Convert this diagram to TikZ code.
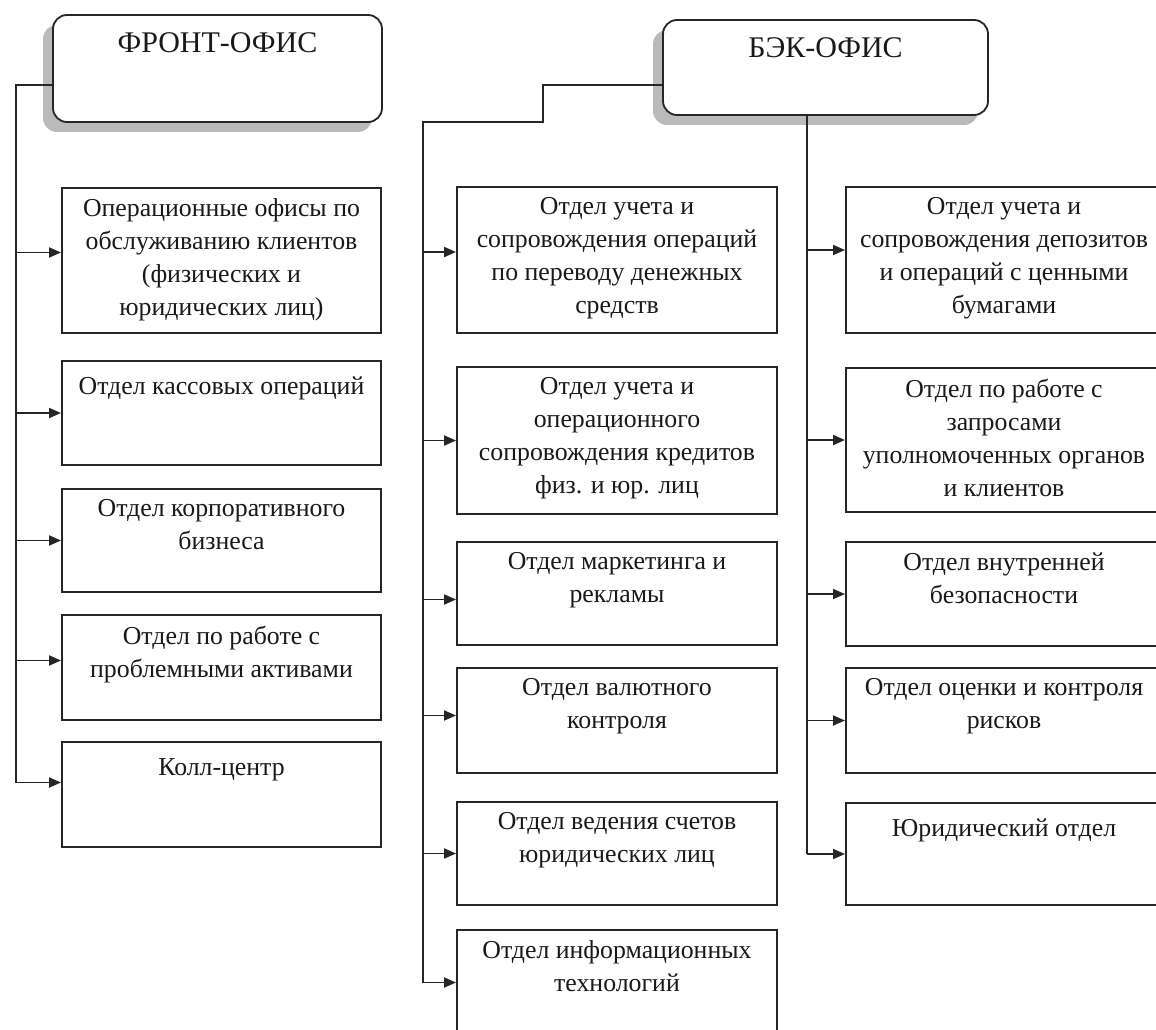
\documentclass[tikz,border=0pt]{standalone}
\usepackage{fontspec}
\setmainfont{Liberation Serif}
\usetikzlibrary{arrows.meta,shadows}
\begin{document}
\begin{tikzpicture}[x=1pt,y=-1pt,
 ln/.style={line width=1.9pt, draw=black!85},
 arr/.style={ln, -{Triangle[length=12pt,width=10pt]}},
 bx/.style={draw=black!85, line width=2pt, fill=white, rectangle, inner sep=0pt},
 hd/.style={draw=black!85, line width=1.8pt, fill=white, rounded corners=14pt, inner sep=0pt,
   drop shadow={shadow xshift=-10pt, shadow yshift=-10pt, fill=black!27, opacity=1}},
 tx/.style={anchor=north, inner sep=0pt, align=center, text=black!90,
   font=\fontsize{25.8}{33}\selectfont, execute at begin node=\strut},
 htx/.style={anchor=north, inner sep=0pt, align=center, text=black!90,
   font=\fontsize{30}{36}\selectfont, execute at begin node=\strut},
 ]
\fill[white] (0,0) rectangle (1156,1030);
\useasboundingbox (0,0) rectangle (1156,1030);

% headers
\node[hd, minimum width=329pt, minimum height=107pt] (fh) at (217.5,68.5) {};
\node[htx] (fht) at ([yshift=-13.5pt]fh.north) {ФРОНТ-ОФИС};
\node[hd, minimum width=325pt, minimum height=95pt] (bh) at (825.5,67.5) {};
\node[htx] (bht) at ([yshift=-13.5pt]bh.north) {БЭК-ОФИС};

% front column
\node[bx, minimum width=319pt, minimum height=145pt] (f1) at (221.5,260.5) {};
\node[bx, minimum width=319pt, minimum height=104pt] (f2) at (221.5,413) {};
\node[bx, minimum width=319pt, minimum height=103pt] (f3) at (221.5,540.5) {};
\node[bx, minimum width=319pt, minimum height=105pt] (f4) at (221.5,667.5) {};
\node[bx, minimum width=319pt, minimum height=105pt] (f5) at (221.5,794.5) {};
\node[tx] (f1t) at ([yshift=-11.5pt]f1.north) {Операционные офисы по\\обслуживанию клиентов\\(физических и\\юридических лиц)};
\node[tx] (f2t) at ([yshift=-11.5pt]f2.north) {Отдел кассовых операций};
\node[tx] (f3t) at ([yshift=-11.5pt]f3.north) {Отдел корпоративного\\бизнеса};
\node[tx] (f4t) at ([yshift=-11.5pt]f4.north) {Отдел по работе с\\проблемными активами};
\node[tx] (f5t) at ([yshift=-11.5pt]f5.north) {Колл-центр};

% middle column
\node[bx, minimum width=320pt, minimum height=146pt] (m1) at (617,260) {};
\node[bx, minimum width=320pt, minimum height=147pt] (m2) at (617,440.5) {};
\node[bx, minimum width=320pt, minimum height=103pt] (m3) at (617,593.5) {};
\node[bx, minimum width=320pt, minimum height=105pt] (m4) at (617,720.5) {};
\node[bx, minimum width=320pt, minimum height=103pt] (m5) at (617,853.5) {};
\node[bx, minimum width=320pt, minimum height=105pt] (m6) at (617,982.5) {};
\node[tx] (m1t) at ([yshift=-11.5pt]m1.north) {Отдел учета и\\сопровождения операций\\по переводу денежных\\средств};
\node[tx] (m2t) at ([yshift=-11.5pt]m2.north) {Отдел учета и\\операционного\\сопровождения кредитов\\физ. и юр. лиц};
\node[tx] (m3t) at ([yshift=-11.5pt]m3.north) {Отдел маркетинга и\\рекламы};
\node[tx] (m4t) at ([yshift=-11.5pt]m4.north) {Отдел валютного\\контроля};
\node[tx] (m5t) at ([yshift=-11.5pt]m5.north) {Отдел ведения счетов\\юридических лиц};
\node[tx] (m6t) at ([yshift=-11.5pt]m6.north) {Отдел информационных\\технологий};

% right column
\node[bx, minimum width=316pt, minimum height=146pt] (r1) at (1004,260) {};
\node[bx, minimum width=316pt, minimum height=144pt] (r2) at (1004,440) {};
\node[bx, minimum width=316pt, minimum height=104pt] (r3) at (1004,594) {};
\node[bx, minimum width=316pt, minimum height=105pt] (r4) at (1004,720.5) {};
\node[bx, minimum width=316pt, minimum height=102pt] (r5) at (1004,854) {};
\node[tx] (r1t) at ([yshift=-11.5pt]r1.north) {Отдел учета и\\сопровождения депозитов\\и операций с ценными\\бумагами};
\node[tx] (r2t) at ([yshift=-11.5pt]r2.north) {Отдел по работе с\\запросами\\уполномоченных органов\\и клиентов};
\node[tx] (r3t) at ([yshift=-11.5pt]r3.north) {Отдел внутренней\\безопасности};
\node[tx] (r4t) at ([yshift=-11.5pt]r4.north) {Отдел оценки и контроля\\рисков};
\node[tx] (r5t) at ([yshift=-11.5pt]r5.north) {Юридический отдел};

% front connectors
\coordinate (fb) at (16,85);
\coordinate (fa1) at ([yshift=8pt]f1.west);
\coordinate (fa5) at ([yshift=12pt]f5.west);
\draw[ln] (fb -| fh.west) -- (fb) -- (fb |- fa5);
\draw[arr] (fb |- fa1) -- (fa1);
\draw[arr] (fb |- f2.west) -- (f2.west);
\draw[arr] (fb |- f3.west) -- (f3.west);
\draw[arr] ([yshift=7pt]fb |- f4.west) -- ([yshift=7pt]f4.west);
\draw[arr] (fb |- fa5) -- (fa5);

% back connectors (left bus)
\coordinate (bb1) at (543,85);
\coordinate (bb2) at (543,122);
\coordinate (bb3) at (423,122);
\coordinate (ma1) at ([yshift=8pt]m1.west);
\draw[ln] (bb1 -| bh.west) -- (bb1) -- (bb2) -- (bb3) -- (bb3 |- m6.west);
\draw[arr] (bb3 |- ma1) -- (ma1);
\draw[arr] (bb3 |- m2.west) -- (m2.west);
\draw[arr] ([yshift=-6pt]bb3 |- m3.west) -- ([yshift=-6pt]m3.west);
\draw[arr] ([yshift=5pt]bb3 |- m4.west) -- ([yshift=5pt]m4.west);
\draw[arr] (bb3 |- m5.west) -- (m5.west);
\draw[arr] (bb3 |- m6.west) -- (m6.west);

% back connectors (right bus)
\coordinate (rb) at (807,0);
\coordinate (ra1) at ([yshift=10pt]r1.west);
\draw[ln] (rb |- bh.south) -- (rb |- r5.west);
\draw[arr] (rb |- ra1) -- (ra1);
\draw[arr] (rb |- r2.west) -- (r2.west);
\draw[arr] (rb |- r3.west) -- (r3.west);
\draw[arr] (rb |- r4.west) -- (r4.west);
\draw[arr] (rb |- r5.west) -- (r5.west);
\end{tikzpicture}
\end{document}
